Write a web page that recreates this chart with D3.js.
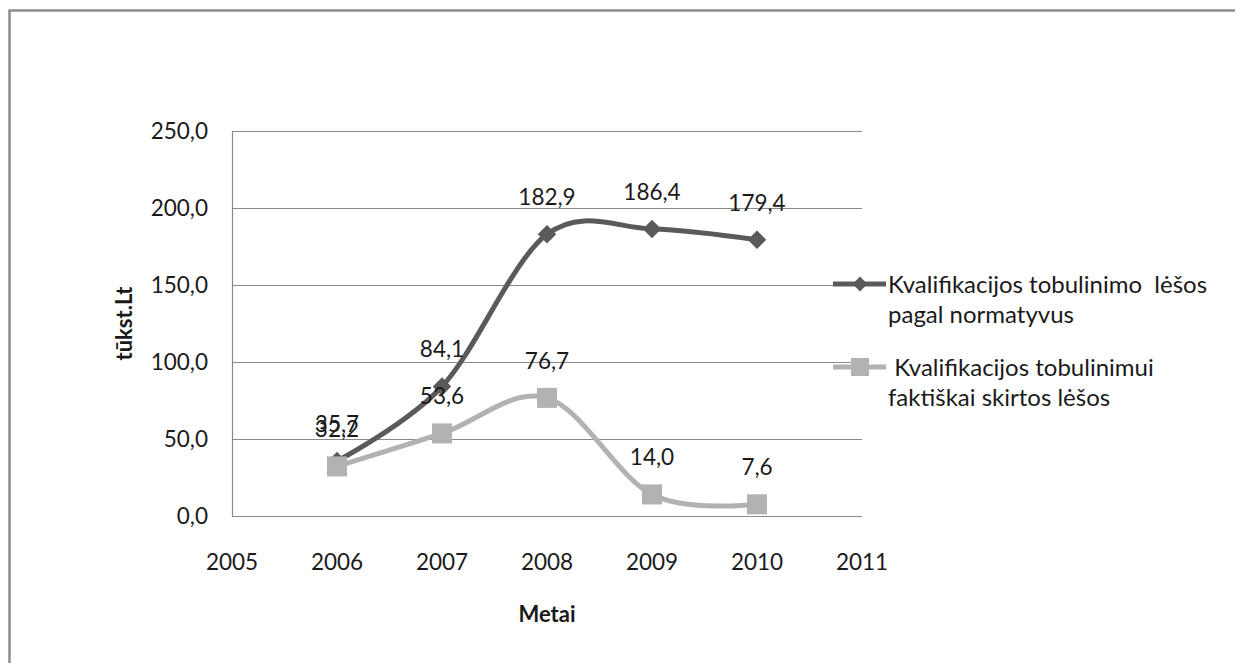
<!DOCTYPE html>
<html>
<head>
<meta charset="utf-8">
<script src="https://cdn.jsdelivr.net/npm/d3@7"></script>
<style>
  html, body { margin:0; background:#fff; overflow:hidden; }
  svg { display:block; }
  svg text { font-family: Lato, "Open Sans", sans-serif; fill:#1a1a1a; }
</style>
</head>
<body>
<div id="chart"></div>
<script>
// data
const years = [2006, 2007, 2008, 2009, 2010];
const normatyvai = [35.7, 84.1, 182.9, 186.4, 179.4];
const faktiskai = [32.2, 53.6, 76.7, 14.0, 7.6];
const yTicks = [0, 50, 100, 150, 200, 250];
const xTicks = [2005, 2006, 2007, 2008, 2009, 2010, 2011];
const seriesNames = [
  ['Kvalifikacijos tobulinimo  lėšos', 'pagal normatyvus'],
  [' Kvalifikacijos tobulinimui', 'faktiškai skirtos lėšos']
];

const W = 1235, H = 663;
const plot = {left:232, right:862, top:131, bottom:516};
const fmt = d => d.toFixed(1).replace('.', ',');

const svg = d3.select('#chart').append('svg')
  .attr('width', W)
  .attr('height', H);

// outer frame (only top and left edges are in view)
svg.append('path')
  .attr('d', 'M9.5,' + H + 'V10.5H' + W)
  .attr('fill', 'none')
  .attr('stroke', '#8c8c8c')
  .attr('stroke-width', 2.5);

const x = d3.scaleLinear().domain([2005, 2011]).range([plot.left, plot.right]);
const y = d3.scaleLinear().domain([0, 250]).range([plot.bottom, plot.top]);

// grid
svg.append('g').selectAll('line')
  .data(yTicks)
  .join('line')
  .attr('x1', plot.left).attr('x2', plot.right)
  .attr('y1', d => Math.round(y(d)) + 0.5).attr('y2', d => Math.round(y(d)) + 0.5)
  .attr('stroke', '#8a8a8a')
  .attr('stroke-width', 1.2);

svg.append('line')
  .attr('x1', plot.left + 0.5).attr('x2', plot.left + 0.5)
  .attr('y1', plot.top).attr('y2', plot.bottom)
  .attr('stroke', '#8a8a8a')
  .attr('stroke-width', 1.2);

// y tick labels
svg.append('g').selectAll('text')
  .data(yTicks)
  .join('text')
  .attr('x', plot.left - 24)
  .attr('y', d => y(d))
  .attr('dy', '0.35em')
  .attr('text-anchor', 'end')
  .attr('font-size', 22.5)
  .text(fmt);

// x tick labels
svg.append('g').selectAll('text')
  .data(xTicks)
  .join('text')
  .attr('x', d => x(d))
  .attr('y', 562)
  .attr('dy', '0.35em')
  .attr('text-anchor', 'middle')
  .attr('font-size', 22.5)
  .text(d => d);

// axis titles
svg.append('text')
  .attr('x', (plot.left + plot.right) / 2)
  .attr('y', 614)
  .attr('dy', '0.35em')
  .attr('text-anchor', 'middle')
  .attr('font-size', 22)
  .attr('font-weight', 'bold')
  .text('Metai');

svg.append('text')
  .attr('transform', 'translate(124,' + ((plot.top + plot.bottom) / 2) + ') rotate(-90)')
  .attr('dy', '0.35em')
  .attr('text-anchor', 'middle')
  .attr('font-size', 22)
  .attr('font-weight', 'bold')
  .text('tūkst.Lt');

const line = d3.line()
  .x((d, i) => x(years[i]))
  .y(d => y(d))
  .curve(d3.curveCardinal.tension(0));

const colors = ['#5a5a5a', '#b2b2b2'];

// series 1 (dark, diamonds)
svg.append('path')
  .attr('d', line(normatyvai))
  .attr('fill', 'none')
  .attr('stroke', colors[0])
  .attr('stroke-width', 5);

svg.append('g').selectAll('path')
  .data(normatyvai)
  .join('path')
  .attr('transform', (d, i) => 'translate(' + x(years[i]) + ',' + y(d) + ') rotate(45)')
  .attr('d', d3.symbol().type(d3.symbolSquare).size(170))
  .attr('fill', colors[0]);

// series 2 (light, squares) drawn on top
svg.append('path')
  .attr('d', line(faktiskai))
  .attr('fill', 'none')
  .attr('stroke', colors[1])
  .attr('stroke-width', 5);

svg.append('g').selectAll('rect')
  .data(faktiskai)
  .join('rect')
  .attr('x', (d, i) => x(years[i]) - 10)
  .attr('y', d => y(d) - 10)
  .attr('width', 20).attr('height', 20)
  .attr('fill', colors[1]);

// data labels
[normatyvai, faktiskai].forEach(series => {
  svg.append('g').selectAll('text')
    .data(series)
    .join('text')
    .attr('x', (d, i) => x(years[i]))
    .attr('y', d => y(d) - 37)
    .attr('dy', '0.35em')
    .attr('text-anchor', 'middle')
    .attr('font-size', 22.5)
    .text(fmt);
});

// legend
const legend = svg.append('g');
const legendY = [284, 367];
seriesNames.forEach((lines, k) => {
  const g = legend.append('g').attr('transform', 'translate(0,' + legendY[k] + ')');
  g.append('line')
    .attr('x1', 833).attr('x2', 886)
    .attr('stroke', colors[k])
    .attr('stroke-width', 5);
  if (k === 0) {
    g.append('path')
      .attr('transform', 'translate(860,0) rotate(45)')
      .attr('d', d3.symbol().type(d3.symbolSquare).size(110))
      .attr('fill', colors[k]);
  } else {
    g.append('rect')
      .attr('x', 851).attr('y', -9)
      .attr('width', 18).attr('height', 18)
      .attr('fill', colors[k]);
  }
  const t = g.append('text')
    .attr('x', 888)
    .attr('y', 9)
    .attr('font-size', 24)
    .attr('xml:space', 'preserve')
    .style('white-space', 'pre');
  lines.forEach((s, j) => {
    t.append('tspan')
      .attr('x', 888)
      .attr('dy', j === 0 ? 0 : 30)
      .text(s);
  });
});
</script>
</body>
</html>
